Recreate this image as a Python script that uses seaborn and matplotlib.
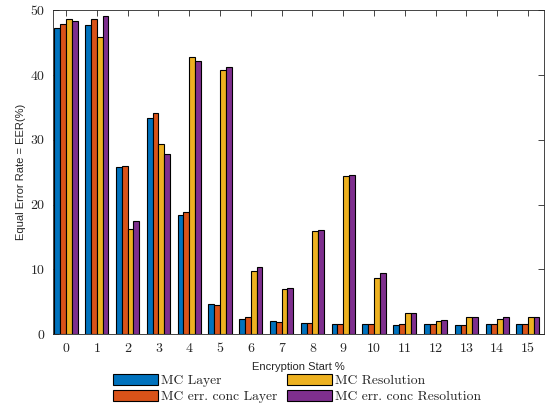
import numpy as np
import pandas as pd
import matplotlib
matplotlib.use('Agg')
import matplotlib.pyplot as plt
import seaborn as sns

# values
starts = list(range(16))
mc_layer = [47.2, 47.7, 25.8, 33.4, 18.4, 4.6, 2.4, 2.1, 1.7, 1.6, 1.5, 1.45, 1.5, 1.4, 1.6, 1.5]
mc_err_layer = [47.8, 48.6, 25.9, 34.1, 18.8, 4.5, 2.6, 1.9, 1.7, 1.6, 1.5, 1.5, 1.5, 1.4, 1.5, 1.6]
mc_res = [48.6, 45.8, 16.2, 29.4, 42.7, 40.8, 9.7, 6.9, 15.9, 24.4, 8.7, 3.3, 2.1, 2.6, 2.4, 2.7]
mc_err_res = [48.4, 49.1, 17.4, 27.8, 42.2, 41.3, 10.4, 7.1, 16.1, 24.5, 9.4, 3.2, 2.15, 2.7, 2.6, 2.7]

series_names = ['MC Layer', 'MC err. conc Layer', 'MC Resolution', 'MC err. conc Resolution']
colors = ['#0072BD', '#D95319', '#EDB120', '#7E2F8E']

df = pd.DataFrame({
    'start': starts * 4,
    'series': np.repeat(series_names, len(starts)),
    'eer': mc_layer + mc_err_layer + mc_res + mc_err_res,
})

sns.set_style('white')
fig = plt.figure(figsize=(5.5, 4.08), dpi=100)
ax = fig.add_axes([0.096, 0.181, 0.893, 0.794])

sns.barplot(data=df, x='start', y='eer', hue='series', hue_order=series_names,
            palette=colors, saturation=1, width=0.75, edgecolor='black',
            linewidth=0.8, ax=ax, legend=False)

ax.set_xlim(-0.43, 15.52)
ax.set_ylim(0, 50)
ax.set_yticks([0, 10, 20, 30, 40, 50])
ax.set_xticks(starts)
ax.set_xticklabels([str(s) for s in starts])

for lab in ax.get_xticklabels() + ax.get_yticklabels():
    lab.set_family('cmr10')
    lab.set_fontsize(10)

ax.tick_params(direction='in', length=4, width=0.6, color='#262626',
               top=True, right=True, bottom=True, left=True, pad=6)
for sp in ax.spines.values():
    sp.set_visible(True)
    sp.set_color('#262626')
    sp.set_linewidth(0.6)

ax.set_xlabel('Encryption Start %', family='Liberation Sans', fontsize=8, labelpad=5.5)
ax.set_ylabel('Equal Error Rate = EER(%)', family='Liberation Sans', fontsize=8, labelpad=3)

handles = [plt.Rectangle((0, 0), 1, 1, facecolor=c, edgecolor='black', linewidth=0.8) for c in colors]
fig.legend(handles, series_names, ncol=2, loc='center', bbox_to_anchor=(0.54, 0.048),
           frameon=False, prop={'family': 'cmr10', 'size': 9.8},
           handlelength=3.3, handleheight=0.9, handletextpad=0.2,
           columnspacing=0.7, labelspacing=0.2, borderpad=0.1)

fig.savefig('out.png', dpi=100)
